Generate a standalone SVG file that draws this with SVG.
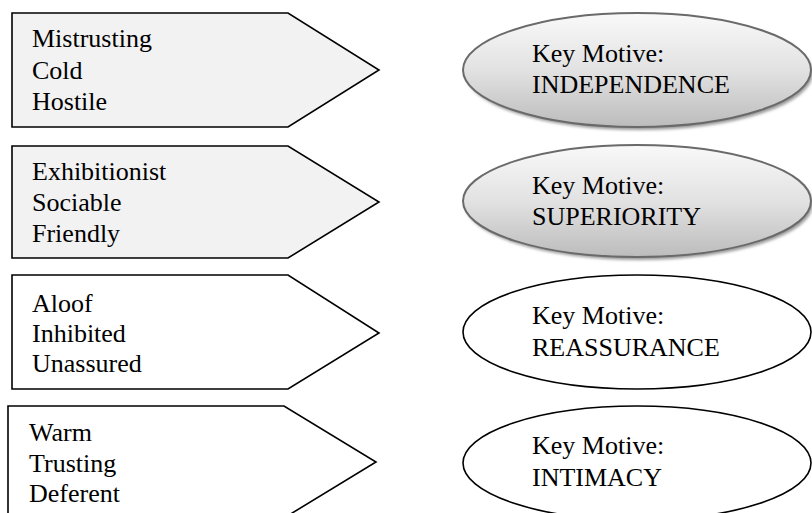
<svg xmlns="http://www.w3.org/2000/svg" width="812" height="513" viewBox="0 0 812 513">
  <defs>
    <linearGradient id="motiveFill" x1="0" y1="0" x2="0" y2="1">
      <stop offset="0" stop-color="#f9f9f9"/>
      <stop offset="0.5" stop-color="#e2e2e2"/>
      <stop offset="1" stop-color="#bcbcbc"/>
    </linearGradient>
    <filter id="soft" x="-10%" y="-10%" width="120%" height="130%">
      <feGaussianBlur stdDeviation="1.5"/>
    </filter>
    <style>
      .trait { stroke: #000; stroke-width: 1.6; stroke-linejoin: miter; }
      .shaded { fill: #f2f2f2; }
      .plain { fill: #fff; }
      .motive-shaded { fill: url(#motiveFill); stroke: #6a6a6a; stroke-width: 2; }
      .motive-plain { fill: #fff; stroke: #000; stroke-width: 1.6; }
      .shadow { fill: #9a9a9a; filter: url(#soft); }
    </style>
  </defs>

  <rect width="812" height="513" fill="#fff"/>

  <g font-family="Liberation Serif, Times New Roman, serif" font-size="26" fill="#000">
  <!-- trait arrows -->
  <g id="trait-mistrusting">
    <polygon class="trait shaded" points="12,13 288,13 379,70 288,127 12,127"/>
    <text x="32" y="47">Mistrusting</text>
    <text x="32" y="79">Cold</text>
    <text x="32" y="110">Hostile</text>
  </g>
  <g id="trait-exhibitionist">
    <polygon class="trait shaded" points="12,146 288,146 379,202 288,258 12,258"/>
    <text x="32" y="180">Exhibitionist</text>
    <text x="32" y="211">Sociable</text>
    <text x="32" y="242">Friendly</text>
  </g>
  <g id="trait-aloof">
    <polygon class="trait plain" points="12,275 288,275 379,333 288,389 12,389"/>
    <text x="32" y="312">Aloof</text>
    <text x="32" y="342">Inhibited</text>
    <text x="32" y="372">Unassured</text>
  </g>
  <g id="trait-warm">
    <polygon class="trait plain" points="8,406 284,406 376,462 284,518 8,518"/>
    <text x="29" y="441">Warm</text>
    <text x="29" y="472">Trusting</text>
    <text x="29" y="502">Deferent</text>
  </g>

  <!-- key motives -->
  <g id="motive-independence">
    <ellipse class="shadow" cx="639" cy="73" rx="174" ry="57"/>
    <ellipse class="motive-shaded" cx="637" cy="70" rx="174" ry="57"/>
    <text x="532" y="62">Key Motive:</text>
    <text x="532" y="93">INDEPENDENCE</text>
  </g>
  <g id="motive-superiority">
    <ellipse class="shadow" cx="639" cy="204" rx="174" ry="56"/>
    <ellipse class="motive-shaded" cx="637" cy="201" rx="174" ry="56"/>
    <text x="532" y="194">Key Motive:</text>
    <text x="532" y="225">SUPERIORITY</text>
  </g>
  <g id="motive-reassurance">
    <ellipse class="motive-plain" cx="637" cy="332" rx="174" ry="57"/>
    <text x="532" y="324">Key Motive:</text>
    <text x="532" y="356">REASSURANCE</text>
  </g>
  <g id="motive-intimacy">
    <ellipse class="motive-plain" cx="637" cy="463" rx="174" ry="57"/>
    <text x="532" y="454">Key Motive:</text>
    <text x="532" y="486">INTIMACY</text>
  </g>
  </g>

  <!-- connectors: none are drawn between the shapes -->
  <g id="connectors"/>
</svg>
